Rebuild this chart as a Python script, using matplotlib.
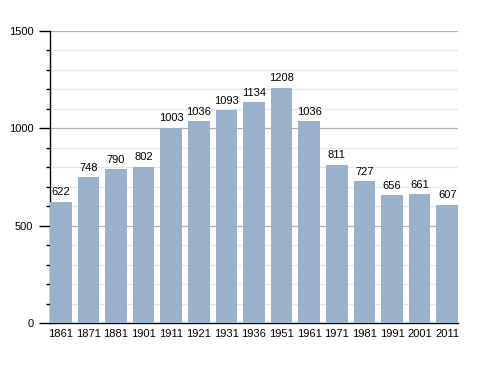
import numpy as np
import matplotlib
matplotlib.use("Agg")
import matplotlib.pyplot as plt
from matplotlib.ticker import MultipleLocator

years = ["1861", "1871", "1881", "1901", "1911", "1921", "1931", "1936",
         "1951", "1961", "1971", "1981", "1991", "2001", "2011"]
population = [622, 748, 790, 802, 1003, 1036, 1093, 1134,
              1208, 1036, 811, 727, 656, 661, 607]

plt.rcParams["font.family"] = ["Liberation Sans", "DejaVu Sans"]

fig = plt.figure(figsize=(4.88, 3.73), dpi=100)
ax = fig.add_axes([0.1025, 0.134, 0.836, 0.783])

x = np.arange(len(years))
w = 0.78
ax.bar(x, population, width=w, color="#9ab1cb", zorder=3)
for xi, v in zip(x, population):
    ax.text(xi, v + 24, str(v), ha="center", va="bottom", fontsize=8, zorder=4)

ax.set_xlim(-w / 2, len(years) - 1 + w / 2)
ax.set_ylim(0, 1500)
ax.yaxis.set_major_locator(MultipleLocator(500))
ax.yaxis.set_minor_locator(MultipleLocator(100))
ax.grid(axis="y", which="major", color="#b0b0b0", linewidth=0.9, zorder=0)
ax.grid(axis="y", which="minor", color="#e6e6e6", linewidth=0.9, zorder=0)

ax.set_xticks(x)
ax.set_xticklabels(years, fontsize=8)
ax.tick_params(axis="x", length=0, pad=4)
ax.tick_params(axis="y", which="major", length=8, width=1, labelsize=8, pad=4)
ax.tick_params(axis="y", which="minor", length=3, width=1)

for side in ("top", "right"):
    ax.spines[side].set_visible(False)
ax.spines["left"].set_linewidth(1)
ax.spines["bottom"].set_linewidth(1)

fig.savefig("out.png", dpi=100)
